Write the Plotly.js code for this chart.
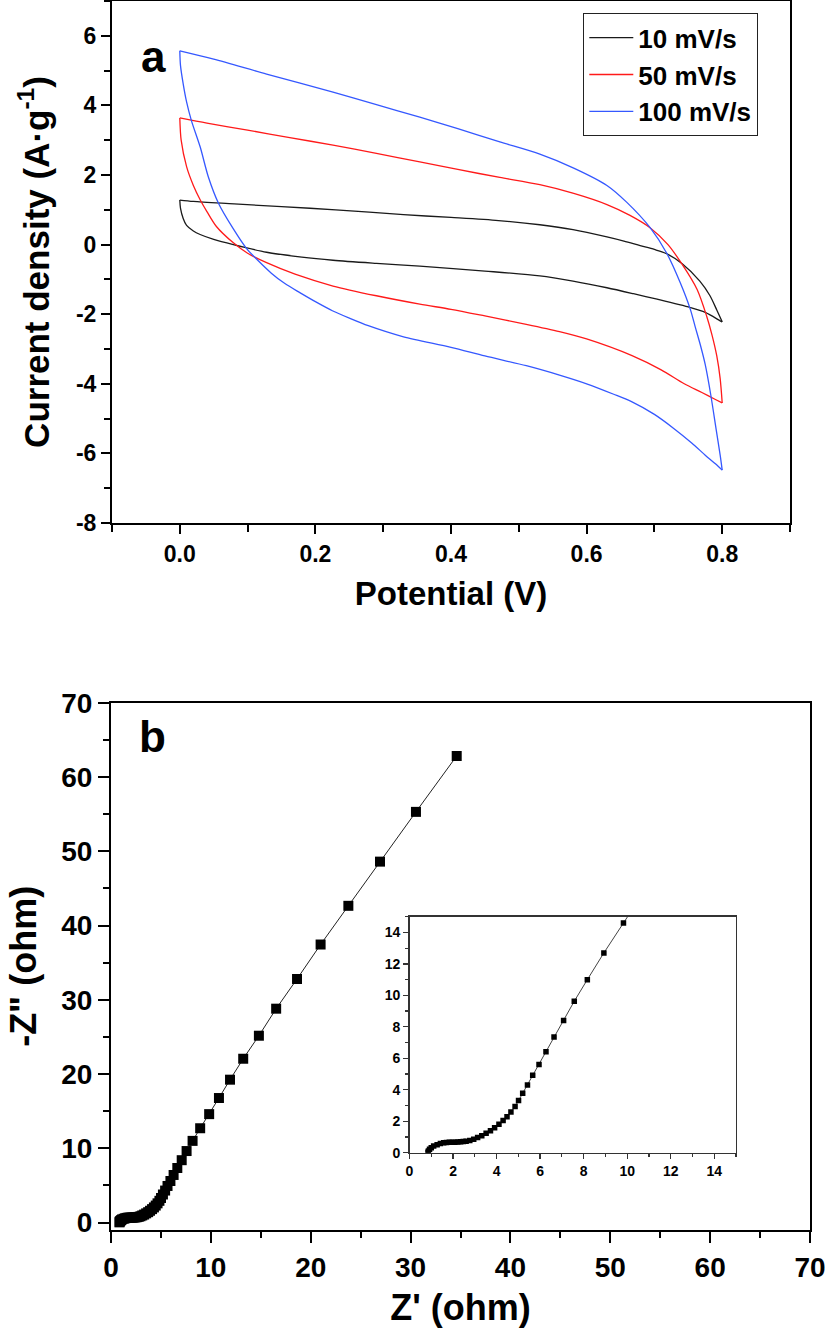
<!DOCTYPE html>
<html>
<head>
<meta charset="utf-8">
<script src="https://cdn.plot.ly/plotly-3.0.1.min.js"></script>
<style>
  body { margin: 0; background: #fff; }
  #myPlot { width: 825px; height: 1328px; }
</style>
</head>
<body>
<div id="myPlot"></div>
<script>
// ---- panel a: cyclic voltammetry, each loop split into upper and lower branch ----
const scanRates = ['10 mV/s', '50 mV/s', '100 mV/s'];
const cvColors = ['#1a1a1a', '#ff1a1a', '#3558ff'];

const v10Upper = [0, 0.02, 0.08, 0.15, 0.23, 0.33, 0.40, 0.47, 0.531, 0.58, 0.63, 0.655, 0.679, 0.70, 0.718, 0.741, 0.767, 0.782, 0.792, 0.8];
const i10Upper = [1.28, 1.24, 1.17, 1.09, 1.0, 0.86, 0.78, 0.69, 0.57, 0.43, 0.22, 0.1, -0.03, -0.14, -0.26, -0.55, -1.05, -1.47, -1.88, -2.22];
const v10Lower = [0, 0.001, 0.005, 0.01, 0.02, 0.03, 0.05, 0.079, 0.128, 0.18, 0.226, 0.29, 0.354, 0.45, 0.531, 0.58, 0.63, 0.669, 0.704, 0.753, 0.775, 0.797, 0.8];
const i10Lower = [1.28, 1.05, 0.75, 0.55, 0.39, 0.29, 0.15, 0.0, -0.22, -0.36, -0.45, -0.54, -0.62, -0.76, -0.9, -1.05, -1.24, -1.41, -1.57, -1.81, -1.95, -2.19, -2.22];

const v50Upper = [0, 0.04, 0.1, 0.16, 0.226, 0.29, 0.354, 0.41, 0.472, 0.531, 0.581, 0.63, 0.664, 0.694, 0.72, 0.741, 0.763, 0.777, 0.785, 0.792, 0.797, 0.8];
const i50Upper = [3.64, 3.49, 3.29, 3.08, 2.86, 2.62, 2.38, 2.16, 1.93, 1.72, 1.47, 1.15, 0.84, 0.48, 0.0, -0.57, -1.29, -2.05, -2.6, -3.2, -3.85, -4.55];
const v50Lower = [0, 0.002, 0.01, 0.02, 0.03, 0.04, 0.054, 0.079, 0.1, 0.128, 0.17, 0.226, 0.29, 0.354, 0.4, 0.45, 0.511, 0.56, 0.6, 0.667, 0.71, 0.744, 0.77, 0.79, 0.8];
const i50Lower = [3.64, 3.0, 2.24, 1.7, 1.29, 0.95, 0.52, 0.05, -0.25, -0.52, -0.85, -1.19, -1.47, -1.71, -1.86, -2.05, -2.29, -2.5, -2.71, -3.19, -3.6, -4.0, -4.25, -4.45, -4.55];

const v100Upper = [0, 0.05, 0.128, 0.226, 0.29, 0.354, 0.41, 0.472, 0.531, 0.581, 0.63, 0.659, 0.694, 0.718, 0.738, 0.753, 0.76, 0.768, 0.775, 0.783, 0.791, 0.797, 0.8];
const i100Upper = [5.57, 5.33, 4.9, 4.38, 4.02, 3.66, 3.33, 2.95, 2.6, 2.2, 1.7, 1.22, 0.48, -0.24, -1.09, -1.86, -2.35, -2.9, -3.45, -4.3, -5.3, -6.05, -6.48];
const v100Lower = [0, 0.001, 0.005, 0.01, 0.017, 0.03, 0.042, 0.057, 0.079, 0.098, 0.115, 0.135, 0.155, 0.177, 0.2, 0.225, 0.251, 0.278, 0.33, 0.4, 0.45, 0.511, 0.56, 0.6, 0.64, 0.667, 0.7, 0.729, 0.755, 0.775, 0.79, 0.8];
const i100Lower = [5.57, 5.15, 4.62, 4.1, 3.57, 2.81, 1.95, 1.19, 0.45, -0.1, -0.45, -0.82, -1.12, -1.38, -1.64, -1.9, -2.12, -2.33, -2.65, -2.95, -3.2, -3.48, -3.75, -4.0, -4.3, -4.52, -4.88, -5.29, -5.7, -6.05, -6.3, -6.48];

const cvTickVals = [-8, -6, -4, -2, 0, 2, 4, 6];
const cvTickText = ['-8', '-6', '-4', '-2', '0', '2', '4', '6'];

// ---- panel b: Nyquist plot (same data drawn in main axes and in the inset) ----
const zReal = [0.85, 0.87, 0.92, 1.0, 1.11, 1.27, 1.42, 1.57, 1.7, 1.83, 1.96, 2.09, 2.22, 2.35, 2.47, 2.6, 2.77, 2.95, 3.13, 3.32, 3.52, 3.72, 3.91, 4.11, 4.3, 4.48, 4.66, 4.85, 5.01, 5.2, 5.42, 5.66, 5.95, 6.27, 6.64, 7.08, 7.57, 8.17, 8.93, 9.83, 10.81, 11.92, 13.24, 14.81, 16.54, 18.63, 20.99, 23.77, 26.94, 30.54, 34.62];
const zImag = [0.03, 0.11, 0.22, 0.32, 0.43, 0.51, 0.58, 0.63, 0.65, 0.66, 0.67, 0.67, 0.68, 0.69, 0.71, 0.73, 0.77, 0.85, 0.96, 1.08, 1.24, 1.4, 1.59, 1.81, 2.04, 2.29, 2.59, 2.93, 3.31, 3.78, 4.31, 4.93, 5.6, 6.41, 7.35, 8.4, 9.63, 11.0, 12.7, 14.6, 16.77, 19.24, 22.06, 25.16, 28.8, 32.8, 37.44, 42.65, 48.6, 55.3, 62.83];

const FONT = 'Liberation Sans, Arial, Helvetica, sans-serif';

// Builds the two branch traces of one CV loop sharing a single legend entry.
function cvTraces(name, color, vUp, iUp, vLow, iLow) {
    const common = {
        type: 'scatter',
        mode: 'lines',
        line: {color: color, width: 1.3, shape: 'spline', smoothing: 0.8},
        legendgroup: name,
        name: name,
        xaxis: 'x',
        yaxis: 'y'
    };
    return [
        Object.assign({}, common, {x: vUp, y: iUp, showlegend: true}),
        Object.assign({}, common, {x: vLow, y: iLow, showlegend: false})
    ];
}

// Common axis styling for the big framed panels.
function frameAxis(extra) {
    return Object.assign({
        showline: true,
        linecolor: '#000',
        linewidth: 2,
        mirror: true,
        ticks: 'outside',
        ticklen: 9,
        tickwidth: 2,
        tickcolor: '#000',
        showgrid: false,
        zeroline: false,
        ticklabeloverflow: 'allow',
        tickfont: {family: FONT, size: 23, color: '#000', weight: 'bold'}
    }, extra);
}

function drawFigure() {
    const traces = []
        .concat(cvTraces(scanRates[0], cvColors[0], v10Upper, i10Upper, v10Lower, i10Lower))
        .concat(cvTraces(scanRates[1], cvColors[1], v50Upper, i50Upper, v50Lower, i50Lower))
        .concat(cvTraces(scanRates[2], cvColors[2], v100Upper, i100Upper, v100Lower, i100Lower));

    traces.push({
        type: 'scatter',
        mode: 'lines+markers',
        x: zReal,
        y: zImag,
        line: {color: '#222', width: 1},
        marker: {symbol: 'square', size: 10, color: '#000'},
        showlegend: false,
        xaxis: 'x2',
        yaxis: 'y2'
    });

    traces.push({
        type: 'scatter',
        mode: 'lines+markers',
        x: zReal,
        y: zImag,
        line: {color: '#444', width: 1},
        marker: {symbol: 'square', size: 5.5, color: '#000'},
        showlegend: false,
        xaxis: 'x3',
        yaxis: 'y3'
    });

    const insetTick = {family: FONT, size: 14, color: '#000', weight: 'bold'};

    const layout = {
        width: 825,
        height: 1328,
        margin: {l: 0, r: 0, t: 0, b: 0},
        paper_bgcolor: '#fff',
        plot_bgcolor: '#fff',
        showlegend: true,
        legend: {
            x: 583 / 825, y: 1 - 13 / 1328,
            xanchor: 'left', yanchor: 'top',
            bgcolor: '#fff',
            bordercolor: '#222',
            borderwidth: 1.3,
            itemwidth: 44,
            font: {family: FONT, size: 26, color: '#000', weight: 'bold'},
            tracegroupgap: 0
        },
        xaxis: frameAxis({
            domain: [112 / 825, 790 / 825],
            range: [-0.1, 0.9],
            tick0: 0, dtick: 0.2,
            tickformat: '.1f',
            minor: {dtick: 0.1, ticks: 'outside', ticklen: 7, tickwidth: 2, tickcolor: '#000'},
            anchor: 'y',
            title: {text: 'Potential (V)', standoff: 16,
                    font: {family: FONT, size: 33, color: '#000', weight: 'bold'}}
        }),
        yaxis: frameAxis({
            domain: [1 - 523 / 1328, 1 - 1 / 1328],
            range: [-8, 7],
            tickmode: 'array',
            tickvals: cvTickVals,
            ticktext: cvTickText,
            minor: {dtick: 1, tick0: 0, ticks: 'outside', ticklen: 6, tickwidth: 2, tickcolor: '#000'},
            anchor: 'x',
            title: {text: 'Current density (A·g<sup>-1</sup>)', standoff: 16,
                    font: {family: FONT, size: 35, color: '#000', weight: 'bold'}}
        }),
        xaxis2: frameAxis({
            domain: [111 / 825, 810 / 825],
            range: [0, 70],
            tick0: 0, dtick: 10,
            minor: {dtick: 5, ticks: 'outside', ticklen: 6, tickwidth: 2, tickcolor: '#000'},
            ticklen: 11,
            anchor: 'y2',
            tickfont: {family: FONT, size: 28, color: '#000', weight: 'bold'},
            title: {text: "Z' (ohm)", standoff: 26,
                    font: {family: FONT, size: 36, color: '#000', weight: 'bold'}}
        }),
        yaxis2: frameAxis({
            domain: [1 - 1230 / 1328, 1 - 702.7 / 1328],
            range: [-1, 70],
            tick0: 0, dtick: 10,
            minor: {dtick: 5, tick0: 0, ticks: 'outside', ticklen: 6, tickwidth: 2, tickcolor: '#000'},
            ticklen: 11,
            anchor: 'x2',
            tickfont: {family: FONT, size: 28, color: '#000', weight: 'bold'},
            title: {text: '-Z" (ohm)', standoff: 14,
                    font: {family: FONT, size: 36, color: '#000', weight: 'bold'}}
        }),
        xaxis3: {
            domain: [409.5 / 825, 736 / 825],
            range: [0, 15],
            tick0: 0, dtick: 2,
            showline: true, linecolor: '#333', linewidth: 1.3, mirror: true,
            ticks: 'outside', ticklen: 5, tickwidth: 1.3, tickcolor: '#333',
            minor: {dtick: 1, ticks: 'outside', ticklen: 3, tickwidth: 1.2, tickcolor: '#333'},
            showgrid: false, zeroline: false,
            tickfont: insetTick,
            anchor: 'y3'
        },
        yaxis3: {
            domain: [1 - 1152.7 / 1328, 1 - 916.7 / 1328],
            range: [0, 15],
            tick0: 0, dtick: 2,
            showline: true, linecolor: '#333', linewidth: 1.3, mirror: true,
            ticks: 'outside', ticklen: 5, tickwidth: 1.3, tickcolor: '#333',
            minor: {dtick: 1, ticks: 'outside', ticklen: 3, tickwidth: 1.2, tickcolor: '#333'},
            showgrid: false, zeroline: false,
            tickfont: insetTick,
            anchor: 'x3'
        },
        annotations: [
            {text: 'a', x: 139 / 825, y: 1 - 30 / 1328, xref: 'paper', yref: 'paper',
             showarrow: false, font: {family: FONT, size: 44, color: '#000', weight: 'bold'}},
            {text: 'b', x: 137 / 825, y: 1 - 736 / 1328, xref: 'paper', yref: 'paper',
             showarrow: false, font: {family: FONT, size: 44, color: '#000', weight: 'bold'}}
        ]
    };

    Plotly.newPlot('myPlot', traces, layout, {staticPlot: true});
}

drawFigure();
</script>
</body>
</html>
